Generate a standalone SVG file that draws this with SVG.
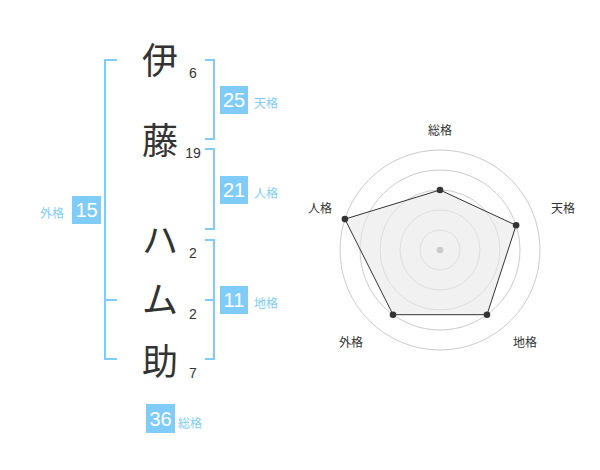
<svg xmlns="http://www.w3.org/2000/svg" width="600" height="470" viewBox="0 0 600 470">
<style>
.ch{font-family:"Noto Sans CJK JP","Noto Sans",sans-serif;font-size:36px;fill:#333;text-anchor:middle}
.num{font-family:"Liberation Sans",Arial,sans-serif;font-size:14px;fill:#333;text-anchor:middle}
.br{fill:none;stroke:#80ccf8;stroke-width:2}
.box{fill:#80ccf8}
.bt{font-family:"Liberation Sans",Arial,sans-serif;font-size:20px;fill:#fff;text-anchor:middle}
.bl{font-family:"Noto Sans CJK JP",sans-serif;font-size:12px;fill:#80ccf8}
.ring{fill:none;stroke:#ccc;stroke-width:1}
.rl{font-family:"Noto Sans CJK JP",sans-serif;font-size:12px;fill:#333;text-anchor:middle}
.dot{fill:#333}
</style>
<rect width="600" height="470" fill="#fff"/>
<g id="name">
<g id="c1"><text class="ch" x="160" y="74">伊</text><text class="num" x="193" y="78">6</text></g>
<g id="c2"><text class="ch" x="160" y="154">藤</text><text class="num" x="193" y="158">19</text></g>
<g id="c3"><text class="ch" x="160" y="254">ハ</text><text class="num" x="193" y="258">2</text></g>
<g id="c4"><text class="ch" x="160" y="313">ム</text><text class="num" x="193" y="319">2</text></g>
<g id="c5"><text class="ch" x="160" y="375">助</text><text class="num" x="193" y="378">7</text></g>
</g>
<g id="brackets">
<path class="br" d="M117,60H105V359H117M105,300H117"/>
<path class="br" d="M205,60H214V139H205"/>
<path class="br" d="M205,149H214V229H205"/>
<path class="br" d="M205,240H214V359H205M205,300H214"/>
</g>
<g id="tenkaku"><rect class="box" x="220" y="86" width="28" height="28"/><text class="bt" x="234" y="107">25</text><text class="bl" x="254" y="108">天格</text></g>
<g id="jinkaku"><rect class="box" x="220" y="176" width="28" height="28"/><text class="bt" x="234" y="197">21</text><text class="bl" x="254" y="198">人格</text></g>
<g id="chikaku"><rect class="box" x="220" y="286" width="28" height="28"/><text class="bt" x="234" y="307">11</text><text class="bl" x="254" y="308">地格</text></g>
<g id="gaikaku"><rect class="box" x="72" y="196" width="29" height="28"/><text class="bt" x="86.5" y="217">15</text><text class="bl" x="40" y="218">外格</text></g>
<g id="soukaku"><rect class="box" x="146" y="404" width="29" height="29"/><text class="bt" x="160.5" y="426">36</text><text class="bl" x="178" y="428">総格</text></g>
<g id="radar">
<circle class="ring" cx="440" cy="250" r="20"/>
<circle class="ring" cx="440" cy="250" r="40"/>
<circle class="ring" cx="440" cy="250" r="60"/>
<circle class="ring" cx="440" cy="250" r="80"/>
<circle class="ring" cx="440" cy="250" r="100"/>
<polygon points="440,190 516.1,225.3 487,314.7 393,314.7 344.9,219.1" fill="#e8e8e8" fill-opacity="0.6" stroke="#333" stroke-width="1"/>
<circle class="dot" cx="440" cy="190" r="3.3"/>
<circle class="dot" cx="516.1" cy="225.3" r="3.3"/>
<circle class="dot" cx="487" cy="314.7" r="3.3"/>
<circle class="dot" cx="393" cy="314.7" r="3.3"/>
<circle class="dot" cx="344.9" cy="219.1" r="3.3"/>
<circle cx="440" cy="250" r="3.3" fill="#ccc"/>
<text class="rl" x="440" y="135">総格</text>
<text class="rl" x="563" y="213">天格</text>
<text class="rl" x="320" y="213">人格</text>
<text class="rl" x="525" y="347">地格</text>
<text class="rl" x="351" y="347">外格</text>
</g>
</svg>
